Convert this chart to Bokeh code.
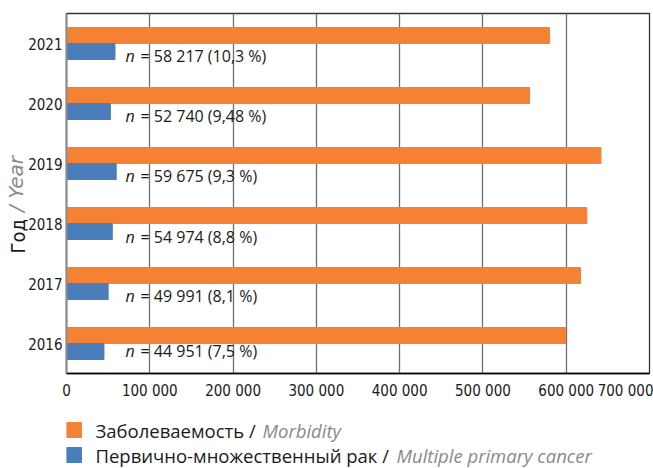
from bokeh.core.properties import value
from bokeh.embed import file_html
from bokeh.layouts import column
from bokeh.models import (CategoricalAxis, ColumnDataSource, FactorRange, FixedTicker,
                          Range1d)
from bokeh.plotting import figure
from bokeh.resources import INLINE
from bokeh.transform import dodge

# --- data -------------------------------------------------------------
years = ["2016", "2017", "2018", "2019", "2020", "2021"]
morbidity = [599300, 617200, 624700, 641700, 556000, 580000]
multiple_primary = [44951, 49991, 54974, 59675, 52740, 58217]
share_pct = ["7,5", "8,1", "8,8", "9,3", "9,48", "10,3"]

x_ticks = [0, 100000, 200000, 300000, 400000, 500000, 600000, 700000]
x_tick_labels = ["0", "100 000", "200 000", "300 000", "400 000",
                 "500 000", "600 000", "700 000"]

axis_title_ru = "Год"
axis_title_en = "/ Year"
legend_ru = ["Заболеваемость /", "Первично-множественный рак /"]
legend_en = ["Morbidity", "Multiple primary cancer"]

# --- styling ----------------------------------------------------------
ORANGE = "#F58234"
BLUE = "#4A7EBB"
GREY_TXT = "#8a8a8a"
INK = "#1a1a1a"
COND = "DejaVu Sans Condensed"
SANS = "Open Sans"
W, H_MAIN, H_LEG = 653, 403, 65
LEFT, RIGHT = 66, 4
NBSP = "\u00a0"

# vertical nudge (px) of each value label below its category centre
label_dy = [7, 12, 13, 12, 12, 12]


def thousands(n):
    return f"{n:,}".replace(",", " ")


value_text = [f"= {thousands(n)} ({s} %)" for n, s in zip(multiple_primary, share_pct)]

src = ColumnDataSource(dict(year=years, morb=morbidity, mpc=multiple_primary,
                            txt=value_text, dy=label_dy))

p = figure(width=W, height=H_MAIN,
           y_range=FactorRange(*years), x_range=Range1d(0, 700000),
           output_backend="svg", toolbar_location=None,
           min_border_left=LEFT, min_border_right=RIGHT,
           min_border_top=13, min_border_bottom=30)
p.extra_y_ranges = {"title": FactorRange("t")}

bar_h = 16 / 60  # each bar takes 16 px of a 60 px category band

p.hbar(y=dodge("year", bar_h / 2, range=p.y_range), left=0, right="morb",
       height=bar_h, color=ORANGE, source=src)
p.hbar(y=dodge("year", -bar_h / 2, range=p.y_range), left=0, right="mpc",
       height=bar_h, color=BLUE, source=src)

# "n = ..." labels: italic n followed by the upright value text
p.text(x=0, y="year", text=value("n"), x_offset=59, y_offset="dy",
       text_font=value(SANS), text_font_style="italic", text_font_size="16px",
       text_baseline="middle", text_color=INK, source=src)
p.text(x=0, y="year", text="txt", x_offset=74, y_offset="dy",
       text_font=value(SANS), text_font_size="16px",
       text_baseline="middle", text_color=INK, source=src)

# x axis
p.xaxis.ticker = FixedTicker(ticks=x_ticks)
p.xaxis.major_label_overrides = {t: l for t, l in zip(x_ticks, x_tick_labels)}
p.xaxis.axis_line_color = "black"
p.xaxis.axis_line_width = 1.5
p.xaxis.major_tick_line_color = None
p.xaxis.minor_tick_line_color = None
p.xaxis.major_tick_out = 0
p.xaxis.major_label_standoff = 8
p.xaxis.major_label_text_font = COND
p.xaxis.major_label_text_font_size = "15px"
p.xaxis.major_label_text_color = INK

# y axis with the black half of the title
p.yaxis.axis_line_color = "#8c8c8c"
p.yaxis.axis_line_width = 2
p.yaxis.major_tick_line_color = None
p.yaxis.minor_tick_line_color = None
p.yaxis.major_tick_out = 0
p.yaxis.major_label_standoff = 4
p.yaxis.major_label_text_font = COND
p.yaxis.major_label_text_font_size = "15px"
p.yaxis.major_label_text_color = INK
p.yaxis.axis_label = axis_title_ru + NBSP * 15
p.yaxis.axis_label_standoff = -5
p.yaxis.axis_label_text_font = COND
p.yaxis.axis_label_text_font_size = "20px"
p.yaxis.axis_label_text_font_style = "normal"
p.yaxis.axis_label_text_color = INK

# bare outer axis carrying the grey italic half, pulled back onto the same line
title_axis = CategoricalAxis(y_range_name="title",
                             axis_line_color=None, major_tick_line_color=None,
                             minor_tick_line_color=None, major_tick_out=0,
                             major_label_standoff=0, major_label_text_font_size="0px",
                             major_label_text_color=None,
                             axis_label=NBSP * 3 + axis_title_en,
                             axis_label_text_font="DejaVu Sans",
                             axis_label_text_font_size="20px",
                             axis_label_text_font_style="italic",
                             axis_label_text_color=GREY_TXT,
                             axis_label_standoff=-24)
p.add_layout(title_axis, "left")

p.xgrid.grid_line_color = "#6f6f6f"
p.xgrid.grid_line_width = 1.3
p.ygrid.grid_line_color = None
p.outline_line_color = "#333333"
p.outline_line_width = 1.3

# --- legend strip -----------------------------------------------------
# same side borders as the chart, so x maps straight to page pixels
lg = figure(width=W, height=H_LEG, x_range=Range1d(LEFT, W - RIGHT),
            y_range=Range1d(H_LEG, 0),
            x_axis_type=None, y_axis_type=None, output_backend="svg",
            toolbar_location=None, min_border_left=LEFT, min_border_right=RIGHT,
            min_border_top=0, min_border_bottom=0)
lg.grid.visible = False
lg.outline_line_color = None

lg.quad(left=[66, 66], right=[81, 81], top=[19, 44], bottom=[34, 59],
        color=[ORANGE, BLUE])
lg.text(x=[95, 95], y=[27, 52], text=legend_ru, text_font=value(SANS),
        text_font_size="18.5px", text_baseline="middle", text_color=INK)
lg.text(x=[262, 396], y=[27, 52], text=legend_en, text_font=value(SANS),
        text_font_size="18.5px", text_font_style="italic", text_baseline="middle",
        text_color=GREY_TXT)

layout = column(p, lg, spacing=0)
open("out.html", "w").write(file_html(layout, INLINE))
